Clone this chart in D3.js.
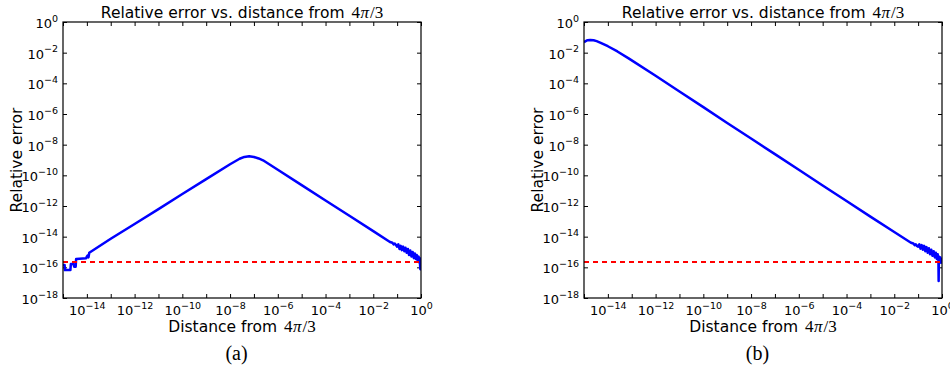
<!DOCTYPE html>
<html>
<head>
<meta charset="utf-8">
<script src="https://cdn.jsdelivr.net/npm/d3@7"></script>
<style>
  html, body { margin: 0; padding: 0; background: #fff; }
  svg { display: block; font-family: "DejaVu Sans", sans-serif; }
  text { fill: #000; }
</style>
</head>
<body>
<svg id="chart" width="950" height="371"></svg>
<script>
// ---- data ----
const xDomain = [1e-15, 1];
const yDomain = [1e-18, 1];
const xTickValues = [1e-15,1e-14,1e-13,1e-12,1e-11,1e-10,1e-9,1e-8,1e-7,1e-6,1e-5,1e-4,1e-3,1e-2,1e-1,1];
const xLabelExponents = [-14,-12,-10,-8,-6,-4,-2,0];
const yTickValues = [1e-18,1e-16,1e-14,1e-12,1e-10,1e-8,1e-6,1e-4,1e-2,1];
const epsValue = 2.22e-16;
const titleText = "Relative error vs. distance from ";
const xLabelText = "Distance from ";
const yLabelText = "Relative error";
const mathText = ["4", "π", "/3"];
const captions = ["(a)", "(b)"];

// panel (a): [distance, relative error]
const seriesA = [
  [1.0e-15, 1.41e-16], [1.17e-15, 1.41e-16], [1.2e-15, 6.6e-17], [2.04e-15, 6.6e-17],
  [2.14e-15, 1.66e-16], [2.75e-15, 1.66e-16], [2.95e-15, 1.10e-16], [3.39e-15, 1.10e-16],
  [3.55e-15, 3.47e-16], [9.33e-15, 3.89e-16], [1.0e-14, 5.01e-16], [1.10e-14, 6.03e-16],
  [1.17e-14, 4.47e-16], [1.26e-14, 8.91e-16],
  [1e-13, 7.24e-15], [1e-12, 6.76e-14], [1e-11, 6.31e-13], [1e-10, 6.03e-12],
  [1e-9, 5.62e-11], [1e-8, 5.25e-10],
  [2.51e-8, 1.20e-9], [3.98e-8, 1.58e-9], [6.31e-8, 1.74e-9], [1e-7, 1.58e-9],
  [1.58e-7, 1.26e-9], [2.40e-7, 9.55e-10],
  [1e-6, 2.29e-10], [1e-5, 2.29e-11], [1e-4, 2.29e-12], [1e-3, 2.29e-13], [1e-2, 2.29e-14],
  [5.01e-2, 4.47e-15], [6.31e-2, 3.98e-15], [7.08e-2, 3.16e-15], [7.94e-2, 3.55e-15],
  [8.91e-2, 2.82e-15], [0.1, 2.24e-15], [0.112, 3.16e-15], [0.126, 1.58e-15], [0.141, 2.51e-15],
  [0.158, 1.32e-15], [0.178, 2.24e-15], [0.2, 1.12e-15], [0.224, 1.91e-15], [0.251, 8.91e-16],
  [0.282, 1.58e-15], [0.316, 6.31e-16], [0.355, 1.26e-15], [0.398, 5.01e-16], [0.447, 1.0e-15],
  [0.501, 3.98e-16], [0.55, 7.94e-16], [0.603, 3.55e-16], [0.661, 6.31e-16], [0.724, 2.82e-16],
  [0.794, 5.01e-16], [0.851, 2.0e-16], [0.891, 3.98e-16], [0.933, 7.94e-17], [0.977, 2.51e-16],
  [1.0, 6.31e-17]
];

// panel (b): [distance, relative error]
const seriesB = [
  [1.0e-15, 4.79e-2], [1.17e-15, 5.62e-2], [1.41e-15, 6.46e-2], [1.82e-15, 6.76e-2],
  [2.51e-15, 6.46e-2], [3.39e-15, 5.62e-2], [5.01e-15, 4.37e-2], [1e-14, 2.63e-2],
  [2.51e-14, 1.20e-2], [7.41e-14, 4.27e-3],
  [1e-12, 3.09e-4], [1e-11, 2.95e-5], [1e-10, 2.82e-6], [1e-9, 2.57e-7], [1e-8, 2.51e-8],
  [1e-7, 2.40e-9], [1e-6, 2.29e-10], [1e-5, 2.19e-11], [1e-4, 2.14e-12], [1e-3, 2.04e-13],
  [1e-2, 2.0e-14], [5.01e-2, 3.98e-15], [6.31e-2, 3.55e-15], [7.08e-2, 2.82e-15], [7.94e-2, 3.16e-15],
  [8.91e-2, 2.51e-15], [0.1, 2.24e-15], [0.112, 3.16e-15], [0.126, 1.66e-15], [0.141, 2.82e-15],
  [0.158, 1.41e-15], [0.178, 2.51e-15], [0.2, 1.12e-15], [0.224, 2.09e-15], [0.251, 8.91e-16],
  [0.282, 1.78e-15], [0.316, 7.08e-16], [0.355, 1.41e-15], [0.398, 5.62e-16], [0.447, 1.12e-15],
  [0.501, 4.47e-16], [0.55, 8.91e-16], [0.603, 3.55e-16], [0.661, 7.08e-16], [0.708, 3.16e-16],
  [0.724, 1.29e-17], [0.741, 5.01e-16], [0.794, 2.51e-16], [0.851, 4.47e-16], [0.912, 2.0e-16],
  [0.955, 3.55e-16], [1.0, 2.24e-16]
];

// ---- drawing ----
const svg = d3.select("#chart");
const panels = [
  { x0: 63, series: seriesA, caption: captions[0] },
  { x0: 584, series: seriesB, caption: captions[1] }
];
const W = 358, TOP = 22, BOTTOM = 298;
const SERIF = '"Liberation Serif", "DejaVu Serif", serif';

function supLabel(sel, exp) {
  sel.text(null);
  sel.append("tspan").text("10");
  sel.append("tspan").attr("dy", -6.5).attr("font-size", 9.5)
     .text(exp === 0 ? "0" : "\u2212" + (-exp));
}

function mathLabel(t) {
  t.append("tspan").style("font-family", SERIF).attr("font-size", 17).attr("dx", 2).text(mathText[0]);
  t.append("tspan").style("font-family", SERIF).style("font-style", "italic").attr("font-size", 17).attr("dx", 0.5).text(mathText[1]);
  t.append("tspan").style("font-family", SERIF).attr("font-size", 17).attr("dx", 1).text(mathText[2]);
}

panels.forEach((p, i) => {
  const x = d3.scaleLog().domain(xDomain).range([p.x0, p.x0 + W]);
  const y = d3.scaleLog().domain(yDomain).range([BOTTOM, TOP]);
  const g = svg.append("g");
  const cid = "clip" + i;
  svg.append("clipPath").attr("id", cid).append("rect")
     .attr("x", p.x0).attr("y", TOP).attr("width", W).attr("height", BOTTOM - TOP);

  // axes
  const bottom = g.append("g").attr("transform", `translate(0,${BOTTOM})`)
    .call(d3.axisBottom(x).tickValues(xTickValues).tickSizeInner(-4).tickSizeOuter(0).tickFormat(""));
  bottom.selectAll(".tick text").each(function(d) {
    const e = Math.round(Math.log10(d));
    const t = d3.select(this).attr("y", 17).attr("dy", 0).attr("font-size", 13);
    if (xLabelExponents.includes(e)) supLabel(t, e); else t.remove();
  });
  g.append("g").attr("transform", `translate(0,${TOP})`)
    .call(d3.axisTop(x).tickValues(xTickValues).tickSizeInner(-4).tickSizeOuter(0).tickFormat(""))
    .selectAll(".tick text").remove();
  const left = g.append("g").attr("transform", `translate(${p.x0},0)`)
    .call(d3.axisLeft(y).tickValues(yTickValues).tickSizeInner(-4).tickSizeOuter(0).tickPadding(5).tickFormat(""));
  left.selectAll(".tick text").each(function(d) {
    const e = Math.round(Math.log10(d));
    const t = d3.select(this).attr("dy", 5.5).attr("font-size", 13);
    supLabel(t, e);
  });
  g.append("g").attr("transform", `translate(${p.x0 + W},0)`)
    .call(d3.axisRight(y).tickValues(yTickValues).tickSizeInner(-4).tickSizeOuter(0).tickFormat(""))
    .selectAll(".tick text").remove();
  g.selectAll(".domain").remove();
  g.selectAll(".tick line").attr("stroke", "#000").attr("stroke-width", 1);
  g.selectAll(".tick text").style("font-family", '"DejaVu Sans", sans-serif');

  // data line
  const line = d3.line().x(d => x(d[0])).y(d => y(d[1]));
  g.append("path").datum(p.series).attr("clip-path", `url(#${cid})`)
    .attr("d", line).attr("fill", "none").attr("stroke", "#0000ff")
    .attr("stroke-width", 2.5).attr("stroke-linejoin", "round");

  // machine epsilon reference line
  g.append("path").datum([[xDomain[0], epsValue], [xDomain[1], epsValue]])
    .attr("d", line).attr("fill", "none").attr("stroke", "#ff0000")
    .attr("stroke-width", 2).attr("stroke-dasharray", "5,4");

  // frame
  g.append("rect").attr("x", p.x0).attr("y", TOP).attr("width", W).attr("height", BOTTOM - TOP)
    .attr("fill", "none").attr("stroke", "#000").attr("stroke-width", 1.2);

  const cx = p.x0 + W / 2;
  // title
  const title = g.append("text").attr("x", cx).attr("y", 17.5).attr("text-anchor", "middle")
    .attr("font-size", 15.5);
  title.append("tspan").text(titleText);
  mathLabel(title);
  // x label
  const xl = g.append("text").attr("x", cx).attr("y", 331.5).attr("text-anchor", "middle")
    .attr("font-size", 15.5);
  xl.append("tspan").text(xLabelText);
  mathLabel(xl);
  // y label
  g.append("text").attr("transform", `translate(${p.x0 - 41},${(TOP + BOTTOM) / 2}) rotate(-90)`)
    .attr("text-anchor", "middle").attr("font-size", 15.5).text(yLabelText);
  // caption
  g.append("text").attr("x", cx - 5.5).attr("y", 360).attr("text-anchor", "middle")
    .style("font-family", SERIF).attr("font-size", 20).text(p.caption);
});
</script>
</body>
</html>
